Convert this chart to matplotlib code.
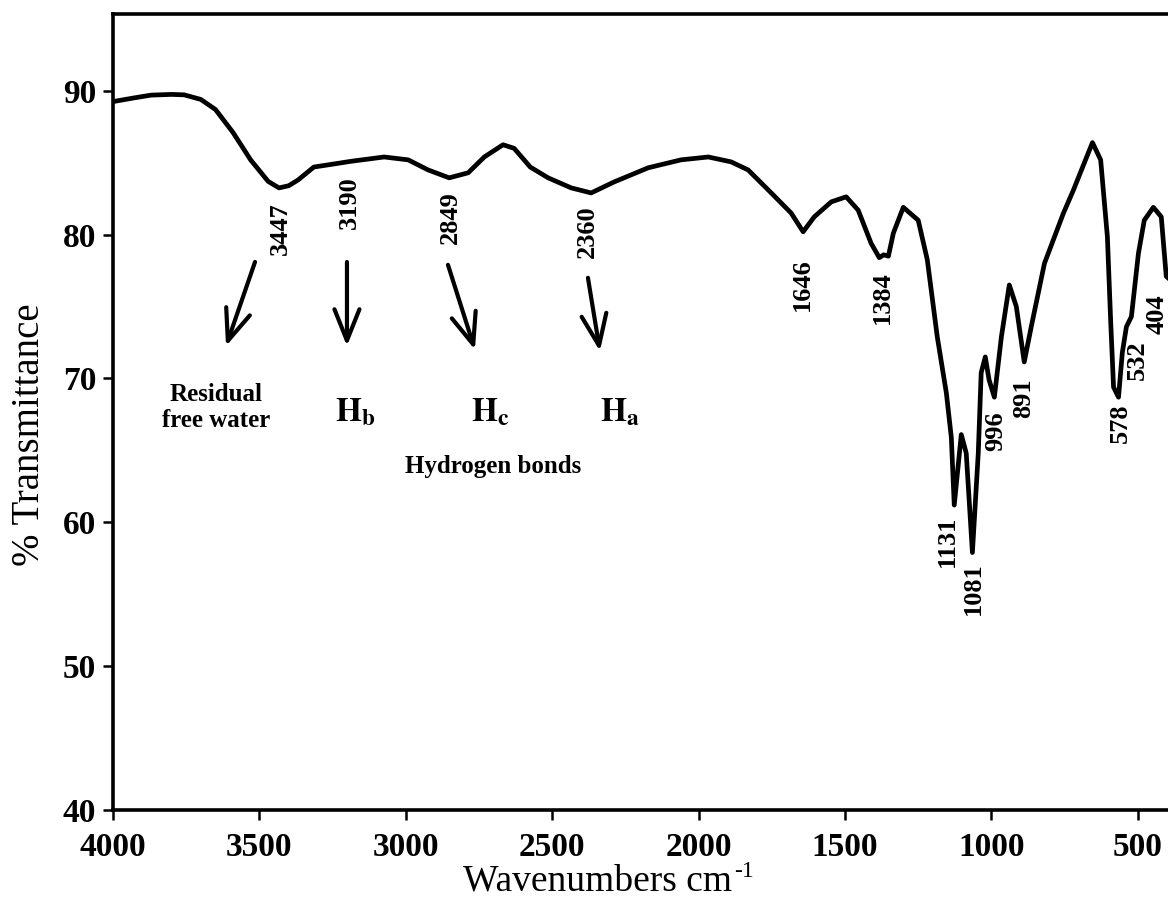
import matplotlib.pyplot as plt

plt.rcParams['font.family'] = ['Liberation Serif', 'DejaVu Serif']
plt.rcParams['mathtext.fontset'] = 'stix'

# FTIR spectrum (wavenumber, % transmittance)
wavenumber = [4000, 3930, 3870, 3800, 3757, 3700, 3650, 3590, 3530, 3470,
              3433, 3400, 3368, 3314, 3250, 3187, 3074, 2992, 2924, 2852,
              2787, 2732, 2668, 2630, 2575, 2514, 2435, 2367, 2288, 2172,
              2060, 1967, 1889, 1831, 1752, 1684, 1643, 1605, 1547, 1496,
              1455, 1411, 1383, 1368, 1352, 1335, 1301, 1250, 1219, 1185,
              1154, 1137, 1127, 1103, 1086, 1065, 1045, 1035, 1021, 1008,
              990, 966, 939, 915, 888, 864, 819, 754, 720, 655,
              627, 604, 593, 583, 566, 553, 539, 522, 498, 478,
              447, 420, 403, 392]
transmittance = [89.25, 89.5, 89.7, 89.75, 89.72, 89.4, 88.7, 87.1, 85.2, 83.7,
                 83.25, 83.4, 83.8, 84.7, 84.9, 85.1, 85.4, 85.2, 84.5, 83.95,
                 84.3, 85.4, 86.25, 86.0, 84.7, 83.95, 83.25, 82.9, 83.67, 84.65,
                 85.2, 85.4, 85.06, 84.5, 82.9, 81.5, 80.2, 81.24, 82.28, 82.63,
                 81.7, 79.4, 78.4, 78.6, 78.5, 80.1, 81.9, 81.0, 78.25, 72.9,
                 69.0, 65.9, 61.2, 66.1, 64.8, 57.9, 64.8, 70.4, 71.5, 69.9,
                 68.7, 72.9, 76.5, 75.0, 71.15, 73.6, 78.0, 81.5, 83.1, 86.4,
                 85.2, 79.85, 74.1, 69.4, 68.7, 71.8, 73.6, 74.3, 78.7, 81.0,
                 81.9, 81.24, 77.1, 76.9]

# peak labels (text, x, y)
peak_labels = ["3447", "3190", "2849", "2360", "1646", "1384", "1131",
               "1081", "996", "891", "578", "532", "404"]
peak_x = [3430, 3194, 2849, 2381, 1647, 1374, 1152, 1060, 985, 889, 561, 503, 433]
peak_y = [80.4, 82.2, 81.2, 80.2, 76.55, 75.65, 58.7, 55.4, 66.35, 68.6, 66.9, 71.3, 74.5]

# hydrogen bond arrows: tail -> head
arrow_tail = [(3515, 78.1), (3201, 78.1), (2856, 77.9), (2378, 77.0)]
arrow_head = [(3614, 72.25), (3201, 72.25), (2764, 72.0), (2337, 71.9)]

fig = plt.figure(figsize=(11.68, 9.06), dpi=100)
ax = fig.add_axes([113 / 1168, 96 / 906, 1055 / 1168, 796 / 906])

ax.plot(wavenumber, transmittance, color="black", lw=3.4,
        solid_joinstyle="round", solid_capstyle="round")

ax.set_xlim(4000, 397)
ax.set_ylim(40, 95.34)
ax.set_xticks([4000, 3500, 3000, 2500, 2000, 1500, 1000, 500])
ax.set_yticks([40, 50, 60, 70, 80, 90])
ax.tick_params(axis="both", direction="out", length=7, width=1.8,
               labelsize=24)
ax.tick_params(axis="x", pad=9)
ax.tick_params(axis="y", pad=5)
for lab in ax.get_xticklabels() + ax.get_yticklabels():
    lab.set_fontweight("bold")

for s in ["left", "top", "bottom"]:
    ax.spines[s].set_linewidth(2.6)
ax.spines["right"].set_visible(False)

for txt, x, y in zip(peak_labels, peak_x, peak_y):
    ax.text(x, y, txt, rotation=90, ha="center", va="center", fontsize=19,
            fontweight="bold")

for t, h in zip(arrow_tail, arrow_head):
    ax.annotate("", xy=h, xytext=t,
                arrowprops=dict(arrowstyle="->,head_length=0.75,head_width=0.3",
                                lw=3.0, color="black", mutation_scale=30,
                                shrinkA=0, shrinkB=0))

ax.text(3648, 68.0, "Residual\nfree water", ha="center", va="center",
        fontsize=18, fontweight="bold", linespacing=1.15)
ax.text(3174, 67.6, r"$\mathbf{H}_{\mathbf{b}}$", ha="center", va="center", fontsize=24)
ax.text(2713, 67.6, r"$\mathbf{H}_{\mathbf{c}}$", ha="center", va="center", fontsize=24)
ax.text(2269, 67.6, r"$\mathbf{H}_{\mathbf{a}}$", ha="center", va="center", fontsize=24)
ax.text(2702, 63.86, "Hydrogen bonds", ha="center", va="center",
        fontsize=18, fontweight="bold")

# x label with a hyphen superscript, as in the original
xl = fig.text(598 / 1168, 1 - 881 / 906, "Wavenumbers cm",
              ha="center", va="center", fontsize=27)
fig.canvas.draw()
bb = xl.get_window_extent()
fig.text(bb.x1 / fig.bbox.width + 0.001, (bb.y1 - 8) / fig.bbox.height, "-1",
         ha="left", va="center", fontsize=17)
fig.text(30 / 1168, 1 - 435 / 906, "% Transmittance", rotation=90,
         ha="center", va="center", fontsize=28)

fig.savefig("out.png", dpi=100)
